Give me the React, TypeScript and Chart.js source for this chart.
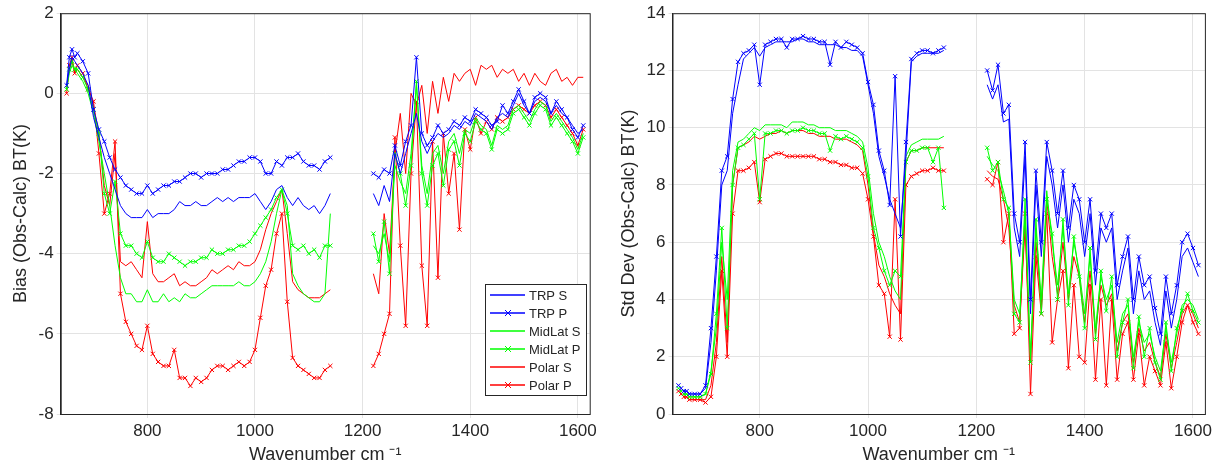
import { useEffect, useRef } from 'react'
import Chart from 'chart.js/auto'

const wn = [650,655,660,665,670,680,690,700,710,720,730,740,750,760,
  770,780,790,800,810,820,830,840,850,860,870,880,890,900,910,920,930,940,950,960,970,980,990,1000,1010,1020,1030,1040,1050,1060,1070,1080,1090,1100,1110,1120,1130,1140,
  1180,
  1220,1230,1240,1250,1260,1270,1280,1290,1300,1310,1320,1330,1340,1350,1360,1370,1380,1390,1400,1410,1420,1430,1440,1450,1460,1470,1480,1490,1500,1510,1520,1530,1540,1550,1560,1570,1580,1590,1600,1610]
const G = [null]

// bias
const trpS_b = [0.2,0.6,0.9,0.8,0.7,0.5,0.2,-0.6,-1.1,-1.6,-2.0,-2.4,-2.8,-3.0,
  -3.1,-3.1,-3.1,-2.9,-3.1,-3.0,-3.0,-3.0,-2.9,-2.7,-2.8,-2.8,-2.7,-2.8,-2.8,-2.7,-2.6,-2.7,-2.6,-2.7,-2.6,-2.6,-2.6,-2.5,-2.7,-2.9,-2.7,-2.4,-2.3,-2.6,-2.8,-2.6,-2.8,-2.9,-2.8,-3.0,-2.8,-2.5,
  ...G,
  -2.5,-2.8,-2.3,-2.7,-1.5,-2.0,-1.5,-1.0,-0.5,-1.2,-1.5,-1.2,-1.0,-1.1,-1.0,-0.8,-0.9,-0.7,-0.8,-0.5,-0.6,-0.7,-0.9,-0.6,-0.5,-0.6,-0.3,0.0,-0.3,-0.5,-0.2,-0.1,-0.2,-0.5,-0.3,-0.5,-0.6,-0.8,-1.0,-0.9]
const trpP_b = [0.2,0.9,1.1,0.9,1.0,0.8,0.5,-0.4,-0.9,-1.2,-1.6,-1.9,-2.1,-2.3,
  -2.4,-2.5,-2.5,-2.3,-2.5,-2.4,-2.3,-2.3,-2.2,-2.2,-2.1,-2.0,-2.0,-2.1,-2.0,-2.0,-2.0,-1.9,-1.9,-1.8,-1.7,-1.7,-1.6,-1.6,-1.7,-2.0,-2.0,-1.7,-1.8,-1.6,-1.6,-1.5,-1.7,-1.8,-1.8,-1.9,-1.7,-1.6,
  ...G,
  -2.0,-2.1,-1.9,-2.0,-1.3,-1.8,-1.2,-0.8,0.9,-1.0,-1.3,-1.1,-0.8,-1.0,-0.9,-0.7,-0.8,-0.6,-0.7,-0.4,-0.5,-0.6,-0.8,-0.7,-0.3,-0.5,-0.2,0.1,-0.2,-0.5,-0.1,0.0,-0.1,-0.5,-0.2,-0.4,-0.6,-0.9,-1.1,-0.8]
const midS_b = [0.1,0.5,0.7,0.6,0.5,0.3,0.0,-0.5,-1.2,-2.0,-2.8,-3.8,-4.6,-5.0,
  -5.0,-5.2,-5.2,-4.9,-5.2,-5.2,-5.0,-5.2,-5.1,-5.2,-5.0,-5.1,-5.1,-5.0,-4.9,-4.8,-4.8,-4.8,-4.8,-4.8,-4.7,-4.8,-4.8,-4.7,-4.5,-4.2,-3.7,-3.0,-2.4,-2.8,-4.5,-4.8,-5.0,-5.1,-5.2,-5.2,-5.0,-3.0,
  ...G,
  -3.8,-4.0,-3.5,-4.2,-1.8,-2.2,-2.5,-1.5,0.2,-1.8,-2.5,-1.5,-1.3,-2.0,-1.2,-1.0,-1.5,-0.9,-1.0,-0.6,-0.8,-0.9,-1.3,-0.8,-0.9,-0.8,-0.4,-0.3,-0.5,-0.7,-0.4,-0.2,-0.3,-0.7,-0.5,-0.7,-0.9,-1.1,-1.4,-1.0]
const midP_b = [0.1,0.6,0.8,0.6,0.6,0.4,0.1,-0.4,-1.0,-2.5,-3.0,-2.2,-3.5,-3.8,
  -3.8,-4.0,-4.1,-3.7,-4.1,-4.2,-4.2,-4.0,-4.1,-4.2,-4.3,-4.2,-4.2,-4.1,-4.1,-3.9,-4.0,-4.0,-3.9,-3.9,-3.8,-3.8,-3.7,-3.5,-3.3,-3.1,-2.9,-2.6,-2.4,-3.0,-3.8,-3.9,-3.8,-4.0,-3.9,-4.1,-3.8,-3.8,
  ...G,
  -3.5,-4.2,-3.2,-4.5,-1.5,-2.0,-2.8,-1.8,0.3,-2.0,-2.8,-1.8,-1.5,-2.3,-1.4,-1.2,-1.8,-1.0,-1.2,-0.7,-0.9,-1.0,-1.4,-0.9,-1.0,-0.9,-0.5,-0.4,-0.6,-0.8,-0.5,-0.3,-0.4,-0.8,-0.6,-0.8,-1.0,-1.2,-1.5,-1.1]
const polS_b = [0.1,0.6,0.8,0.5,0.6,0.4,0.2,-0.3,-1.0,-2.3,-2.8,-1.5,-4.2,-4.3,
  -4.2,-4.4,-4.6,-3.2,-4.5,-4.7,-4.7,-4.6,-4.5,-4.8,-4.7,-4.8,-4.8,-4.7,-4.6,-4.4,-4.5,-4.4,-4.3,-4.4,-4.2,-4.3,-4.3,-4.2,-3.9,-3.4,-3.0,-2.7,-2.4,-3.5,-4.7,-4.9,-5.0,-5.1,-5.1,-5.1,-5.0,-4.9,
  ...G,
  -4.5,-5.0,-3.0,-4.0,-1.5,-0.5,-2.0,0.0,-0.3,0.2,-1.0,0.3,-0.5,0.4,-0.2,0.5,0.3,0.5,0.6,0.2,0.7,0.6,0.7,0.4,0.6,0.5,0.6,0.3,0.5,0.2,0.5,0.3,0.2,0.5,0.6,0.3,0.4,0.2,0.4,0.4]
const polP_b = [0.0,0.7,0.9,0.5,0.7,0.5,0.1,-0.2,-1.5,-3.0,-2.5,-1.2,-5.0,-5.7,
  -6.0,-6.3,-6.4,-5.8,-6.5,-6.7,-6.8,-6.8,-6.4,-7.1,-7.1,-7.3,-7.1,-7.2,-7.1,-6.9,-6.8,-6.8,-6.9,-6.8,-6.7,-6.8,-6.7,-6.4,-5.6,-4.8,-4.4,-3.5,-3.0,-5.2,-6.6,-6.8,-6.9,-7.0,-7.1,-7.1,-6.9,-6.8,
  ...G,
  -6.8,-6.5,-6.0,-5.5,-1.1,-3.8,-5.8,-2.0,-0.2,-4.3,-5.8,-1.2,-4.6,-1.0,-2.5,-1.5,-3.4,-0.9,-1.4,-0.6,-1.0,-0.7,-0.9,-0.6,-0.7,-0.6,-0.4,-0.3,-0.4,-0.5,-0.3,-0.2,-0.3,-0.6,-0.4,-0.6,-0.8,-1.0,-1.3,-0.9]

// std dev
const trpS_s = [1.0,0.9,0.8,0.8,0.7,0.7,0.7,0.9,2.5,5.0,8.0,8.5,10.5,11.5,
  12.4,12.6,12.8,12.5,12.8,12.9,13.0,13.0,13.0,13.0,13.1,13.1,13.0,13.0,12.9,12.9,12.9,12.9,12.8,12.8,12.7,12.7,12.5,11.5,10.5,9.0,8.3,7.5,7.0,6.5,9.0,12.3,12.5,12.6,12.6,12.6,12.6,12.7,
  ...G,
  11.5,11.0,11.5,10.2,10.3,6.5,5.5,9.0,3.5,8.0,5.5,9.0,8.0,6.5,8.0,6.0,7.5,7.0,5.5,7.0,4.5,6.5,6.0,6.5,4.0,5.0,5.8,3.5,5.0,4.0,4.3,3.2,2.4,4.3,3.0,4.0,5.5,5.8,5.3,4.8]
const trpP_s = [1.0,0.9,0.8,0.8,0.7,0.7,0.7,1.0,3.0,5.5,8.5,9.0,11.0,12.3,
  12.6,12.7,12.9,11.5,12.9,13.0,13.1,13.1,12.8,13.1,13.1,13.2,13.1,13.1,13.0,13.0,12.2,13.0,12.8,13.0,12.9,12.8,12.6,11.6,10.8,9.2,8.5,7.3,11.8,6.2,9.5,12.4,12.6,12.7,12.7,12.6,12.7,12.8,
  ...G,
  12.0,11.3,12.2,10.5,10.8,7.0,6.0,9.5,4.0,8.5,6.0,9.5,8.5,7.0,8.5,6.5,8.0,7.5,6.0,7.5,5.0,7.0,6.5,7.0,4.5,5.5,6.2,4.0,5.5,4.5,4.8,3.7,2.8,4.8,3.5,4.5,6.0,6.3,5.8,5.2]
const midS_s = [0.9,0.8,0.7,0.7,0.6,0.6,0.6,0.7,1.5,3.0,6.0,4.0,8.5,9.5,
  9.6,9.8,10.0,9.9,10.1,10.1,10.1,10.1,10.0,10.2,10.2,10.2,10.1,10.1,10.0,10.0,10.0,9.9,9.9,9.9,9.8,9.7,9.5,8.6,7.0,6.0,5.5,4.8,4.3,4.0,9.0,9.4,9.5,9.6,9.6,9.6,9.6,9.7,
  ...G,
  9.0,8.7,8.5,7.8,7.0,4.0,3.5,7.0,2.0,6.5,4.0,7.8,6.0,4.5,6.5,4.2,6.0,5.0,3.5,5.5,3.0,4.8,4.0,4.5,2.5,3.5,3.8,2.0,3.2,2.5,2.8,2.0,1.5,3.0,1.8,2.8,3.8,4.0,3.8,3.3]
const midP_s = [0.9,0.8,0.7,0.7,0.6,0.6,0.6,0.7,1.4,3.5,6.5,3.0,8.0,9.3,
  9.4,9.6,9.8,7.5,9.8,9.8,9.9,9.9,9.8,9.9,9.9,10.0,9.9,9.9,9.8,9.8,9.2,9.7,9.6,9.7,9.6,9.5,9.3,8.3,6.5,5.8,5.0,4.5,5.0,4.8,8.8,9.2,9.2,9.3,9.3,8.8,9.3,7.2,
  ...G,
  9.3,8.5,8.8,7.5,7.2,3.5,3.2,7.5,1.8,6.8,3.5,7.5,6.3,4.0,6.8,3.8,6.2,4.8,3.0,5.8,2.6,5.0,3.6,4.8,2.0,3.2,4.0,1.6,3.4,2.0,3.0,1.8,1.2,3.2,1.5,3.0,3.6,4.2,3.6,3.2]
const polS_s = [0.8,0.7,0.6,0.6,0.5,0.5,0.5,0.5,1.0,2.5,5.5,2.5,8.0,9.3,
  9.4,9.5,9.7,9.6,9.7,9.8,9.8,9.9,9.8,9.9,9.9,9.9,9.8,9.8,9.7,9.7,9.7,9.6,9.6,9.6,9.5,9.4,9.2,8.0,6.3,5.2,4.8,4.2,3.8,3.5,8.8,9.2,9.2,9.3,9.3,9.3,9.3,9.3,
  ...G,
  8.5,8.3,8.2,7.5,6.5,3.8,3.2,6.5,1.8,6.0,3.8,7.5,5.5,4.2,6.0,4.0,5.5,4.8,3.2,5.0,2.8,4.5,3.8,4.2,2.2,3.2,3.5,1.8,3.0,2.2,2.5,1.8,1.3,2.8,1.6,2.5,3.5,3.8,3.5,3.0]
const polP_s = [0.8,0.7,0.6,0.6,0.5,0.5,0.5,0.4,0.6,2.0,5.0,2.0,7.0,8.5,
  8.5,8.6,8.8,7.4,8.9,9.0,9.1,9.1,9.0,9.0,9.0,9.0,9.0,9.0,8.9,8.9,8.8,8.8,8.7,8.7,8.6,8.6,8.4,7.5,6.2,4.5,4.2,2.7,7.5,2.6,8.0,8.3,8.4,8.5,8.5,8.6,8.5,8.5,
  ...G,
  8.2,8.0,8.8,6.0,7.0,2.8,3.0,7.0,0.7,5.5,3.5,7.0,2.5,4.0,5.0,1.6,4.5,2.0,1.8,4.5,1.2,4.0,1.0,4.0,1.2,2.8,3.2,1.2,2.8,1.0,2.0,1.5,1.0,2.5,0.9,2.0,3.2,3.8,3.2,2.8]

const names = ['TRP S', 'TRP P', 'MidLat S', 'MidLat P', 'Polar S', 'Polar P']
const colors = ['#0000ff', '#0000ff', '#00ff00', '#00ff00', '#ff0000', '#ff0000']
const FONT = '"Liberation Sans", Arial, sans-serif'

function makeSets(series: (number | null)[][]) {
  return series.map((vals, i) => ({
    label: names[i],
    data: vals.map((v, k) => ({ x: wn[k], y: v })),
    borderColor: colors[i],
    backgroundColor: colors[i],
    borderWidth: 1,
    pointStyle: 'crossRot' as const,
    pointRadius: i % 2 === 1 ? 3 : 0,
    pointBorderWidth: 1,
    spanGaps: false,
  }))
}

const boxPlugin = {
  id: 'box',
  afterDraw(chart: any) {
    const { ctx, chartArea: a } = chart
    ctx.save()
    ctx.strokeStyle = '#262626'
    ctx.lineWidth = 1
    ctx.strokeRect(a.left + 0.5, a.top + 0.5, a.right - a.left, a.bottom - a.top)
    const opts = chart.options.plugins.box
    if (opts && opts.legend) {
      const x0 = Math.round(a.right - 105), y0 = Math.round(a.bottom - 130), w = 101, h = 111
      ctx.fillStyle = '#fff'
      ctx.fillRect(x0, y0, w, h)
      ctx.strokeRect(x0 + 0.5, y0 + 0.5, w, h)
      ctx.font = '13px ' + FONT
      ctx.textBaseline = 'middle'
      names.forEach((n, i) => {
        const y = y0 + 11 + i * 18
        ctx.strokeStyle = colors[i]
        ctx.lineWidth = 1.3
        ctx.beginPath(); ctx.moveTo(x0 + 5, y); ctx.lineTo(x0 + 40, y); ctx.stroke()
        if (i % 2 === 1) {
          ctx.lineWidth = 1
          ctx.beginPath()
          ctx.moveTo(x0 + 20, y - 3); ctx.lineTo(x0 + 26, y + 3)
          ctx.moveTo(x0 + 26, y - 3); ctx.lineTo(x0 + 20, y + 3)
          ctx.stroke()
        }
        ctx.fillStyle = '#262626'
        ctx.fillText(n, x0 + 44, y + 1)
      })
    }
    ctx.restore()
  },
}

function Panel({ series, min, max, yTitle, legend, padLeft, padRight }: any) {
  const ref = useRef<HTMLCanvasElement | null>(null)
  useEffect(() => {
    if (!ref.current) return
    const chart = new Chart(ref.current, {
      type: 'line',
      data: { datasets: makeSets(series) },
      plugins: [boxPlugin],
      options: {
        animation: false,
        responsive: true,
        maintainAspectRatio: false,
        layout: { padding: { top: 11, right: padRight, left: padLeft, bottom: 0 } },
        plugins: { legend: { display: false }, tooltip: { enabled: false }, box: { legend } } as any,
        scales: {
          x: {
            type: 'linear', min: 639, max: 1622,
            afterBuildTicks: (s: any) => { s.ticks = [800, 1000, 1200, 1400, 1600].map(v => ({ value: v })) },
            grid: { color: '#e3e3e3', tickLength: 4 },
            border: { color: '#262626' },
            ticks: { color: '#262626', font: { family: FONT, size: 17 }, maxRotation: 0, callback: (v: any) => String(v) },
            title: { display: true, text: 'Wavenumber cm ⁻¹', color: '#262626', font: { family: FONT, size: 18 }, padding: { top: 0 } },
          },
          y: {
            min, max,
            ticks: { stepSize: 2, color: '#262626', font: { family: FONT, size: 17 } },
            grid: { color: '#e3e3e3', tickLength: 4 },
            border: { color: '#262626' },
            title: { display: true, text: yTitle, color: '#262626', font: { family: FONT, size: 18 }, padding: { bottom: 4 } },
          },
        },
      },
    })
    return () => chart.destroy()
  }, [])
  return <div style={{ position: 'relative', height: 470 }}><canvas ref={ref} /></div>
}

export default function App() {
  useEffect(() => { document.body.style.margin = '0' }, [])
  return (
    <div style={{ display: 'flex', width: 1215, height: 470, background: '#fff' }}>
      <div style={{ width: 600 }}>
        <Panel series={[trpS_b, trpP_b, midS_b, midP_b, polS_b, polP_b]} min={-8} max={2}
          yTitle="Bias (Obs-Calc) BT(K)" legend={true} padLeft={6} padRight={10} />
      </div>
      <div style={{ width: 615 }}>
        <Panel series={[trpS_s, trpP_s, midS_s, midP_s, polS_s, polP_s]} min={0} max={14}
          yTitle="Std Dev (Obs-Calc) BT(K)" legend={false} padLeft={14} padRight={4} />
      </div>
    </div>
  )
}
